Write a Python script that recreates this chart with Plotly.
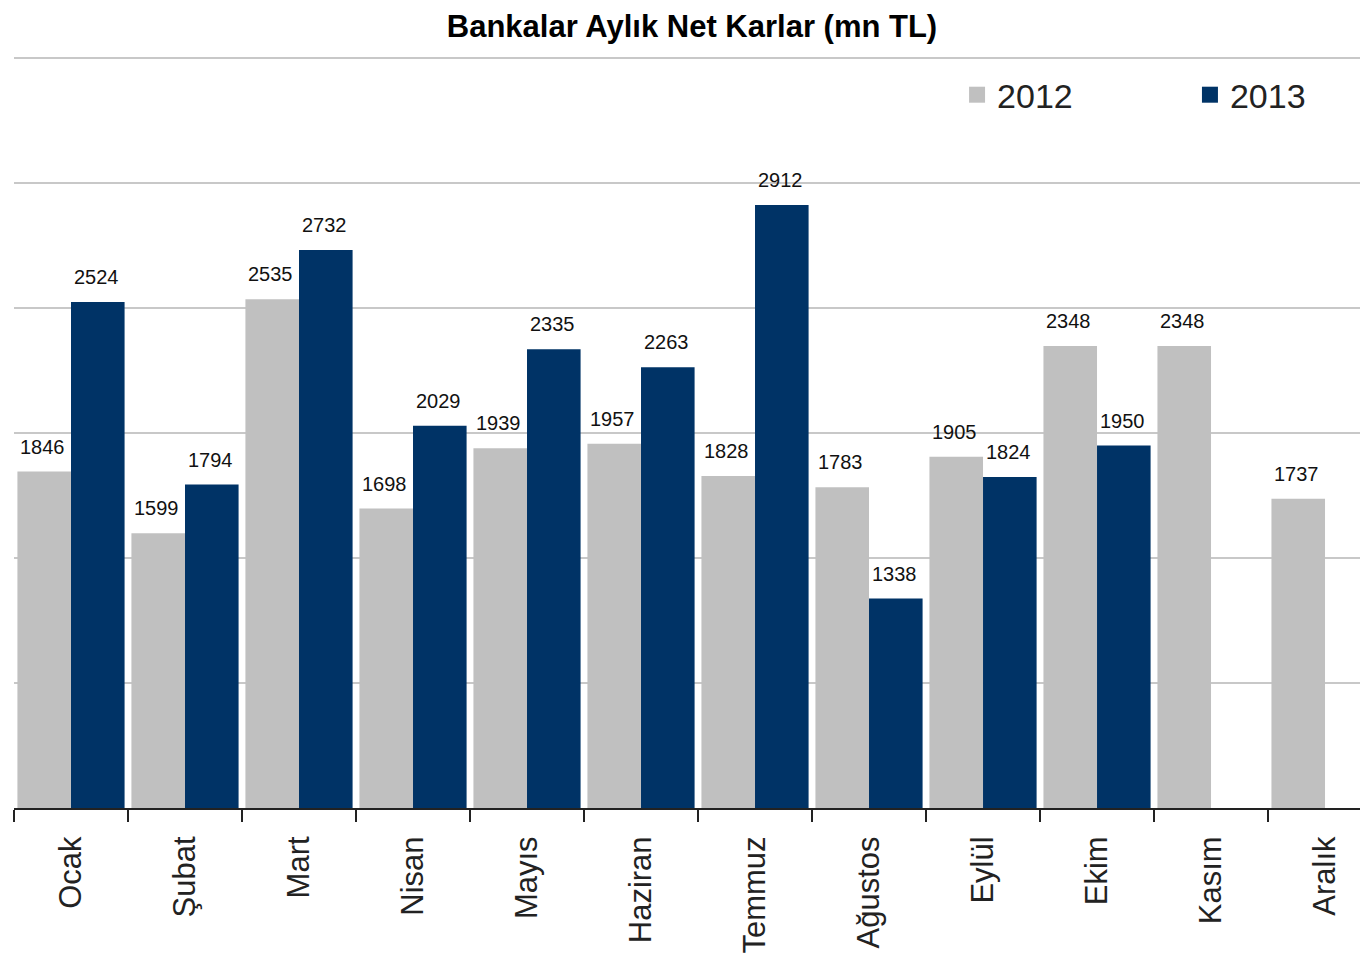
import plotly.graph_objects as go

months = ["Ocak", "Şubat", "Mart", "Nisan", "Mayıs", "Haziran", "Temmuz",
          "Ağustos", "Eylül", "Ekim", "Kasım", "Aralık"]
vals_2012 = [1846, 1599, 2535, 1698, 1939, 1957, 1828, 1783, 1905, 2348, 2348, 1737]
vals_2013 = [2524, 1794, 2732, 2029, 2335, 2263, 2912, 1338, 1824, 1950, None, None]

GRAY = "#c0c0c0"
NAVY = "#003366"
FONT = "Liberation Sans, Arial, sans-serif"

fig = go.Figure()
fig.add_trace(go.Bar(name="2012", x=months, y=vals_2012, marker_color=GRAY,
                     marker_line_width=0, showlegend=False, legendgroup="a"))
fig.add_trace(go.Bar(name="2013", x=months, y=vals_2013, marker_color=NAVY,
                     marker_line_width=0, showlegend=False, legendgroup="b"))
# legend entries (square swatches)
fig.add_trace(go.Scatter(name="2012", x=[None], y=[None], mode="markers",
                         marker=dict(symbol="square", size=16, color=GRAY),
                         legend="legend", legendgroup="a"))
fig.add_trace(go.Scatter(name="2013", x=[None], y=[None], mode="markers",
                         marker=dict(symbol="square", size=16, color=NAVY),
                         legend="legend2", legendgroup="b"))

annotations = []
for series, shift in ((vals_2012, -27), (vals_2013, 27)):
    for m, v in zip(months, series):
        if v is None:
            continue
        annotations.append(dict(x=m, y=v, text=str(v), showarrow=False,
                                xshift=shift - 2, yshift=12, yanchor="bottom",
                                font=dict(family=FONT, size=20, color="#111")))

legend_common = dict(orientation="h", xanchor="left", y=0.948, yanchor="middle",
                     font=dict(family=FONT, size=34, color="#222"),
                     bgcolor="rgba(0,0,0,0)")

fig.update_layout(
    width=1368, height=962,
    margin=dict(l=6, r=8, t=48, b=162, autoexpand=False),
    paper_bgcolor="white", plot_bgcolor="white",
    barmode="group", bargap=0.06, bargroupgap=0.0,
    title=dict(text="<b>Bankalar Aylık Net Karlar (mn TL)</b>",
               x=0.5, xanchor="center", y=1 - 18 / 962, yanchor="middle",
               yref="container",
               font=dict(family=FONT, size=31, color="#000")),
    legend=dict(x=0.6965, **legend_common),
    legend2=dict(x=0.8685, **legend_common),
    annotations=annotations,
    font=dict(family=FONT),
)
fig.update_xaxes(range=[-0.5, 11.377], tickson="boundaries", ticks="outside",
                 ticklen=12, tickwidth=2, tickcolor="#222",
                 showline=True, linecolor="#222", linewidth=2,
                 tickangle=-90, ticklabelstandoff=14,
                 tickfont=dict(family=FONT, size=31, color="#222"),
                 showgrid=False, automargin=False)
fig.update_yaxes(range=[500, 3508], tick0=500, dtick=500, showticklabels=False,
                 showgrid=True, gridcolor="#c8c8c8", gridwidth=2,
                 zeroline=False, showline=False, ticks="", automargin=False)

fig.write_html("out.html")
